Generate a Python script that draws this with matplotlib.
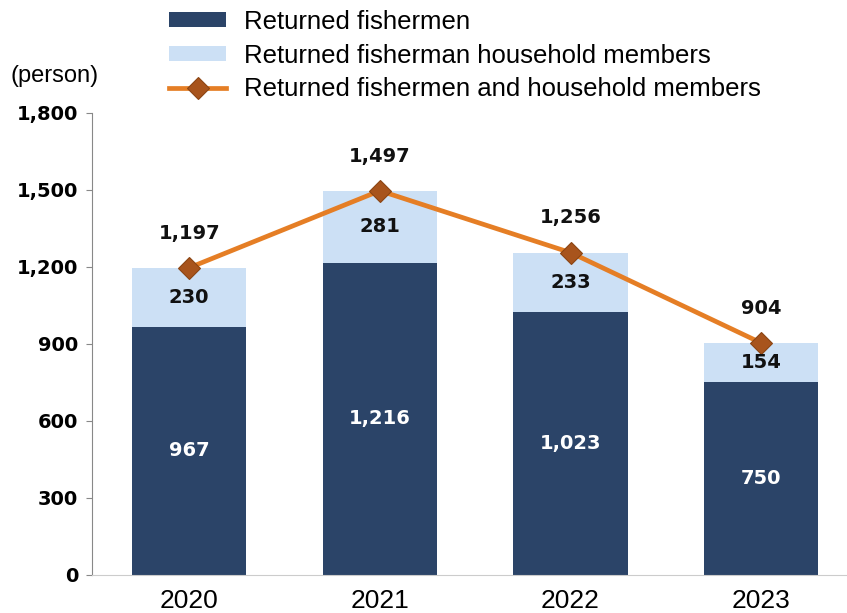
import numpy as np
import matplotlib.pyplot as plt

years = ['2020', '2021', '2022', '2023']
fishermen = [967, 1216, 1023, 750]
household = [230, 281, 233, 154]
totals = [1197, 1497, 1256, 904]

navy = '#2B4468'
light = '#CCE0F5'
orange = '#E57E25'
brown = '#A8541C'

fig = plt.figure(figsize=(8.47, 6.13), dpi=100)
ax = fig.add_axes([0.1086, 0.062, 0.8914, 0.7537])

x = np.arange(len(years))
w = 0.6
b1 = ax.bar(x, fishermen, w, color=navy, label='Returned fishermen', zorder=2)
b2 = ax.bar(x, household, w, bottom=fishermen, color=light,
            label='Returned fisherman household members', zorder=2)
ln, = ax.plot(x, totals, color=orange, lw=3.4, marker='D', ms=11,
              mfc=brown, mec='#8B4513', mew=0.8, zorder=3,
              label='Returned fishermen and household members')

for i in range(len(years)):
    ax.text(x[i], fishermen[i] / 2, f'{fishermen[i]:,}', ha='center', va='center',
            color='white', fontsize=14, fontweight='bold')
    ax.text(x[i], fishermen[i] + household[i] / 2, f'{household[i]:,}', ha='center',
            va='center', color='#111111', fontsize=14, fontweight='bold')
    ax.text(x[i], totals[i] + 135, f'{totals[i]:,}', ha='center', va='center',
            color='#111111', fontsize=14, fontweight='bold')

ax.set_ylim(0, 1800)
ax.set_xlim(-0.51, 3.45)
ax.set_yticks(np.arange(0, 1801, 300))
ax.set_yticklabels([f'{v:,}' for v in range(0, 1801, 300)], fontsize=14,
                   fontweight='bold')
ax.set_xticks(x)
ax.set_xticklabels(years, fontsize=19, family='Liberation Sans')
ax.tick_params(axis='x', length=0, pad=10)
ax.tick_params(axis='y', length=4, color='#888888', pad=6)
ax.spines['top'].set_visible(False)
ax.spines['right'].set_visible(False)
ax.spines['left'].set_color('#888888')
ax.spines['bottom'].set_color('#CCCCCC')

fig.text(0.012, 0.866, '(person)', fontsize=17, family='Liberation Sans')

fig.legend(handles=[b1, b2, ln], loc='upper left', bbox_to_anchor=(0.2, 0.984),
           frameon=False, prop={'family': 'Liberation Sans', 'size': 18.5},
           handlelength=2.2, handleheight=0.55, labelspacing=0.38,
           handletextpad=0.7, borderpad=0, borderaxespad=0)

fig.savefig('out.png', dpi=100)
